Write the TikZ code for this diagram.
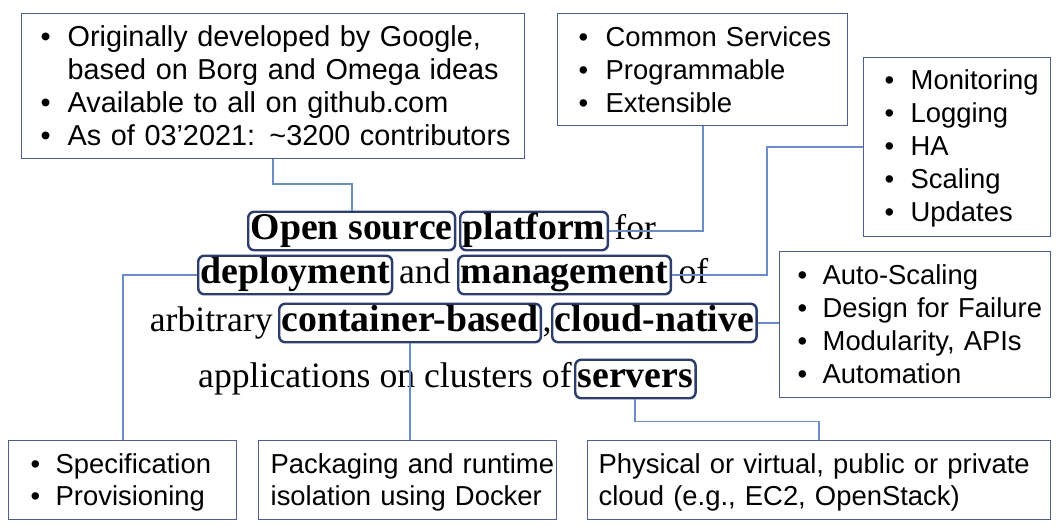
\documentclass[tikz,border=0pt]{standalone}
\usepackage{fontspec}
\setmainfont{Liberation Serif}
\newfontfamily\notefamily{Liberation Sans}
\usetikzlibrary{positioning}

\definecolor{linkblue}{RGB}{108,140,200}
\definecolor{kwblue}{RGB}{45,62,108}
\definecolor{boxblue}{RGB}{78,94,140}

\newcommand{\notefont}{\notefamily\fontsize{15.6}{18.7}\selectfont}
\newcommand{\bignotefont}{\notefamily\fontsize{16.4}{18.7}\selectfont}
\newcommand{\lownotefont}{\notefamily\fontsize{15.6}{18.1}\selectfont}
\newcommand{\textsz}{\fontsize{20.3}{24}\selectfont}
\newcommand{\kwsz}{\fontsize{21.5}{24}\selectfont}
\newcommand{\itm}{\textbullet}

\begin{document}
\begin{tikzpicture}[x=0.02cm, y=-0.02cm,
    note/.style = {draw=boxblue, line width=0.8pt, fill=white, anchor=north west,
                   align=left, font=\notefont, inner ysep=0pt, text height=0.66cm},
    word/.style = {anchor=west, inner xsep=0pt, inner ysep=0.04cm,
                   text height=0.52cm, text depth=0.17cm, font=\textsz},
    kw/.style   = {word, draw=kwblue, line width=1.4pt, rounded corners=0.12cm,
                   inner xsep=0.05cm, font=\kwsz\bfseries},
    link/.style = {draw=linkblue, line width=1.1pt}]
				\useasboundingbox (0,0) rectangle (1062,526);
				% notes on top
				\node[note, font=\bignotefont, text width=9.3cm, text depth=2.24cm, inner xsep=0.38cm] (info) at (21,13) {%
					\begin{tabular}[t]{@{}p{0.54cm}@{}l@{}}
						\itm & Originally developed by Google,\\
						     & based on Borg and Omega ideas\\
						\itm & Available to all on github.com\\
						\itm & As of 03’2021: \char"7E 3200 contributors
					\end{tabular}};
				\node[note, text width=4.96cm, text depth=1.58cm, inner xsep=0.42cm] (svc) at (557,13) {%
					\begin{tabular}[t]{@{}p{0.54cm}@{}l@{}}
						\itm & Common Services\\
						\itm & Programmable\\
						\itm & Extensible
					\end{tabular}};
				\node[note, text width=2.9cm, text height=0.64cm, text depth=2.94cm, inner xsep=0.42cm] (ops) at (863,57) {%
					\begin{tabular}[t]{@{}p{0.52cm}@{}l@{}}
						\itm & Monitoring\\
						\itm & Logging\\
						\itm & HA\\
						\itm & Scaling\\
						\itm & Updates
					\end{tabular}};
				% notes on the right
				\node[note, text width=4.7cm, text depth=2.26cm, inner xsep=0.36cm] (cn) at (779,251) {%
					\begin{tabular}[t]{@{}p{0.5cm}@{}l@{}}
						\itm & Auto-Scaling\\
						\itm & Design for Failure\\
						\itm & Modularity, APIs\\
						\itm & Automation
					\end{tabular}};
				% notes at the bottom
				\node[note, font=\lownotefont, text width=3.68cm, text depth=0.92cm, inner xsep=0.44cm] (prov) at (8,440) {%
					\begin{tabular}[t]{@{}p{0.5cm}@{}l@{}}
						\itm & Specification\\
						\itm & Provisioning
					\end{tabular}};
				\node[note, font=\lownotefont, text width=5.48cm, text depth=0.92cm, inner xsep=0.24cm] (pack) at (258,440) {%
					\begin{tabular}[t]{@{}l@{}}
						Packaging and runtime\\
						isolation using Docker
					\end{tabular}};
				\node[note, font=\lownotefont, text width=8.82cm, text depth=0.92cm, inner xsep=0.22cm] (phys) at (587,440) {%
					\begin{tabular}[t]{@{}l@{}}
						Physical or virtual, public or private\\
						cloud (e.g., EC2, OpenStack)
					\end{tabular}};
				% the sentence
				\node[kw] (open) at (247,231) {Open source};
				\node[kw] (platform) at (459,231) {platform};
				\node[word, right=0.1cm of platform] (for) {for};
				\node[kw] (deploy) at (197,275) {deployment};
				\node[kw] (manage) at (457,275) {management};
				\node[word, left=0.12cm of manage] (and) {and};
				\node[word, right=0.12cm of manage] (of) {of};
				\node[kw] (container) at (278,323) {container-based};
				\node[word, left=0.1cm of container] (arb) {arbitrary};
				\node[word, right=0pt of container] (comma) {,};
				\node[kw] (cloud) at (551,323) {cloud-native};
				\node[kw] (servers) at (574,379) {servers};
				\node[word, left=0.04cm of servers] (apps) {applications on clusters of};
				% connectors
				\draw[link] (info.south) -- ++(0,25) -| (open.north);
				\draw[link] (svc.south) |- (platform.east);
				\draw[link] (ops.west) -- ++(-96,0) |- (manage.east);
				\draw[link] (cloud.east) -- (cloud.east -| cn.west);
				\draw[link] (deploy.west) -| (prov.north);
				\draw[link] (container.south) -- (container.south |- pack.north);
				\draw[link] (servers.south) -- ++(0,22) -| (phys.north);
\end{tikzpicture}
\end{document}
